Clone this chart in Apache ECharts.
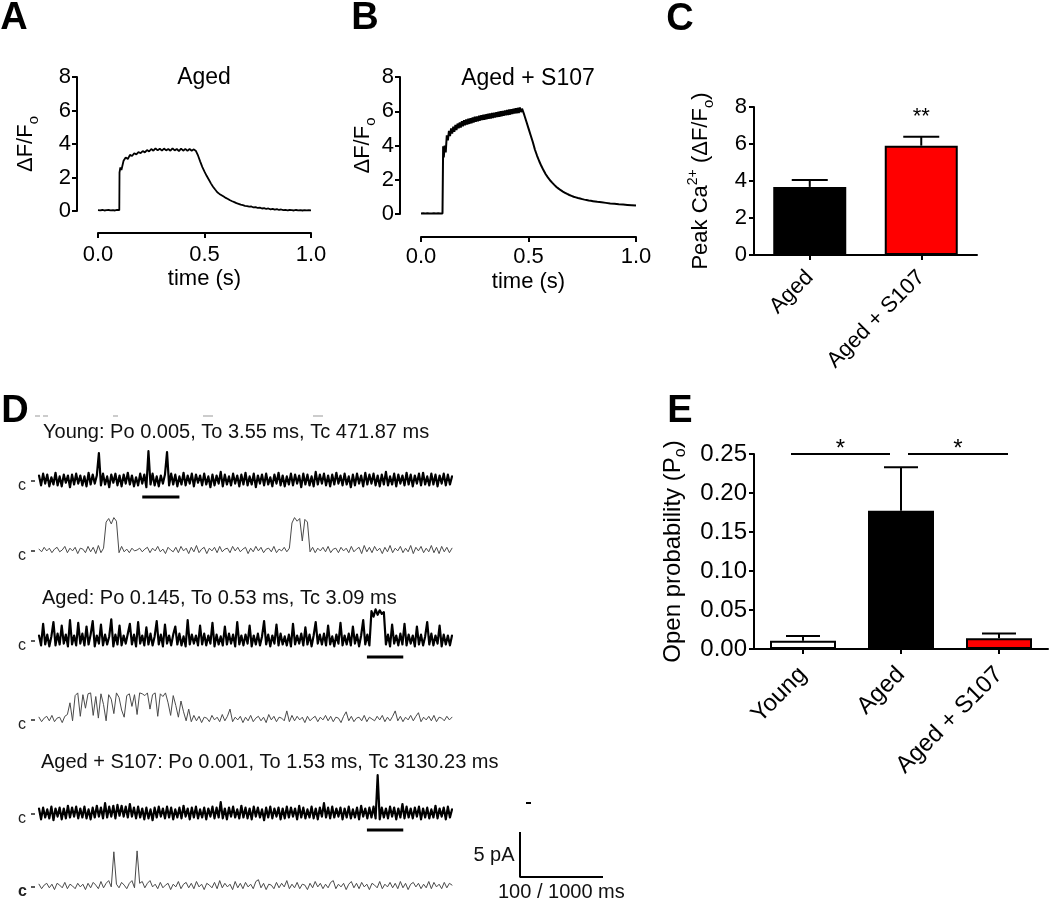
<!DOCTYPE html>
<html><head><meta charset="utf-8">
<script src="https://cdn.jsdelivr.net/npm/echarts@6/dist/echarts.min.js"></script>
<style>html,body{margin:0;padding:0;background:#fff}#c{width:1050px;height:901px}</style>
</head><body><div id="c"></div>
<script>
const FONT = "'Liberation Sans', Arial, Helvetica, sans-serif";

// ---------- Panel A : Aged transient ----------
const timeA = [0,0.01,0.02,0.03,0.04,0.05,0.06,0.07,0.08,0.09,0.1,0.101,0.105,
0.11,0.12,0.13,0.14,0.15,0.16,0.17,0.18,0.19,0.2,0.21,0.22,0.23,0.24,0.25,0.26,0.27,0.28,0.29,
0.3,0.31,0.32,0.33,0.34,0.35,0.36,0.37,0.38,0.39,0.4,0.41,0.42,0.43,0.44,0.45,0.46,0.47,0.48,0.49,
0.5,0.51,0.52,0.53,0.54,0.55,0.56,0.57,0.58,0.59,0.6,0.61,0.62,0.63,0.64,0.65,0.66,0.67,0.68,0.69,
0.7,0.71,0.72,0.73,0.74,0.75,0.76,0.77,0.78,0.79,0.8,0.81,0.82,0.83,0.84,0.85,0.86,0.87,0.88,0.89,
0.9,0.91,0.92,0.93,0.94,0.95,0.96,0.97,0.98,0.99,1.0];
const valsA = [0.05,0.04,0.06,0.03,0.05,0.06,0.04,0.05,0.03,0.06,0.05,2.3,2.6,
2.45,3.0,3.2,3.1,3.35,3.28,3.45,3.38,3.52,3.45,3.58,3.5,3.64,3.55,3.7,3.6,3.74,3.62,3.72,
3.6,3.73,3.62,3.7,3.6,3.74,3.62,3.7,3.58,3.72,3.6,3.71,3.59,3.7,3.6,3.68,3.58,3.3,2.95,2.62,
2.35,2.1,1.88,1.65,1.45,1.28,1.12,1.02,0.94,0.86,0.78,0.72,0.64,0.58,0.53,0.47,0.43,0.38,0.35,0.31,
0.29,0.26,0.27,0.21,0.23,0.18,0.2,0.15,0.17,0.12,0.15,0.1,0.13,0.08,0.11,0.06,0.09,0.05,0.07,0.04,
0.06,0.05,0.03,0.06,0.04,0.05,0.03,0.05,0.04,0.05,0.04];

// ---------- Panel B : Aged + S107 transient ----------
const timeB = [0,0.01,0.02,0.03,0.04,0.05,0.06,0.07,0.08,0.09,0.1,0.103,0.106,0.11,0.115,
0.12,0.125,0.13,0.135,0.14,0.145,0.15,0.155,0.16,0.165,0.17,0.175,0.18,0.185,0.19,0.195,
0.2,0.205,0.21,0.215,0.22,0.225,0.23,0.235,0.24,0.245,0.25,0.255,0.26,0.265,0.27,0.275,0.28,0.285,0.29,0.295,
0.3,0.305,0.31,0.315,0.32,0.325,0.33,0.335,0.34,0.345,0.35,0.355,0.36,0.365,0.37,0.375,0.38,0.385,0.39,0.395,
0.4,0.405,0.41,0.415,0.42,0.425,0.43,0.435,0.44,0.445,0.45,0.455,0.46,0.465,0.47,
0.48,0.49,0.5,0.51,0.52,0.53,0.54,0.55,0.56,0.57,0.58,0.59,0.6,0.61,0.62,0.63,0.64,0.65,0.66,0.67,0.68,0.69,
0.7,0.71,0.72,0.73,0.74,0.75,0.76,0.77,0.78,0.79,0.8,0.82,0.84,0.86,0.88,0.9,0.92,0.94,0.96,0.98,1.0];
const valsB = [0.03,0.04,0.03,0.04,0.03,0.03,0.04,0.03,0.04,0.03,0.03,3.95,3.3,4.0,3.6,
4.6,4.3,4.85,4.55,5.0,4.7,5.1,4.8,5.2,4.9,5.28,5.0,5.35,5.05,5.42,5.12,
5.48,5.18,5.52,5.22,5.56,5.26,5.6,5.3,5.64,5.34,5.68,5.38,5.7,5.42,5.74,5.45,5.77,5.48,5.8,5.5,
5.82,5.53,5.85,5.56,5.87,5.58,5.9,5.6,5.92,5.63,5.95,5.66,5.97,5.68,6.0,5.7,6.02,5.73,6.05,5.76,
6.07,5.78,6.1,5.8,6.12,5.83,6.15,5.86,6.18,5.88,6.2,5.9,6.22,5.95,6.15,
5.8,5.4,5.0,4.6,4.2,3.75,3.4,3.08,2.8,2.55,2.32,2.14,1.97,1.83,1.7,1.58,1.48,1.39,1.31,1.24,1.17,1.11,
1.06,1.01,0.97,0.93,0.9,0.87,0.84,0.82,0.79,0.77,0.75,0.71,0.68,0.65,0.62,0.6,0.57,0.55,0.53,0.51,0.49];

// ---------- Panel C : peak Ca ----------
const cCategories = ['Aged', 'Aged + S107'];
const cMeans = [3.68, 5.91];
const cSem = [0.37, 0.48];
const cSig = ['', '**'];

// ---------- Panel E : open probability ----------
const eCategories = ['Young', 'Aged', 'Aged + S107'];
const eMeans = [0.0106, 0.1773, 0.0137];
const eSem = [0.0061, 0.0557, 0.0063];
const eSigPairs = [[0, 1], [1, 2]];
const eSigLevel = 0.25;
const eSigLabel = ['*', '*'];

// ---------- Panel D : single-channel traces (pA) ----------
const denseSpanMs = 5000;   // compressed traces
const expandedSpanMs = 500; // expanded traces
const youngDense = [
0.5,-0.6,0.7,-0.4,0.6,-0.7,0.3,-0.5,0.8,-0.6,0.4,-0.7,0.6,-0.3,0.5,-0.8,0.6,-0.5,0.7,-0.4,
0.5,-0.6,0.4,-0.7,0.8,-0.5,0.6,-0.4,0.5,3.0,-0.6,0.7,-0.5,0.4,-0.8,0.6,-0.3,0.7,-0.6,0.5,
-0.7,0.6,-0.4,0.8,-0.5,0.5,-0.7,0.3,-0.6,0.7,-0.4,0.6,-0.8,3.2,-0.5,0.7,-0.6,0.4,-0.7,0.5,
-0.4,0.6,3.1,-0.6,0.7,-0.5,0.6,-0.7,0.4,-0.5,0.8,-0.6,0.5,-0.4,0.7,-0.7,0.6,-0.3,0.5,-0.6,
0.7,-0.5,0.4,-0.8,0.6,-0.6,0.5,-0.4,0.9,-0.7,0.6,-0.5,0.4,-0.6,0.7,-0.4,0.5,-0.7,0.6,-0.5,
0.8,-0.6,0.4,-0.5,0.7,-0.8,0.5,-0.4,0.6,-0.6,0.7,-0.5,0.3,-0.7,0.6,-0.4,0.8,-0.6,0.5,-0.7,
0.4,-0.5,0.7,-0.6,0.6,-0.4,0.5,-0.8,0.7,-0.5,0.6,-0.6,0.4,-0.7,0.9,-0.5,0.6,-0.4,0.7,-0.6,
0.5,-0.7,0.6,-0.5,0.8,-0.4,0.5,-0.6,0.7,-0.5,0.4,-0.8,0.6,-0.6,0.7,-0.4,0.5,-0.7,0.8,-0.5,
0.6,-0.4,0.7,-0.6,0.5,-0.7,0.6,-0.5,0.9,-0.6,0.4,-0.5,0.7,-0.7,0.6,-0.4,0.5,-0.6,0.8,-0.5,
0.6,-0.7,0.5,-0.4,0.7,-0.6,0.8,-0.5,0.4,-0.6,0.7,-0.5,0.6,-0.7,0.5,-0.4,0.7,-0.6,0.6,-0.5,
0.4];
const youngExpanded = [
0.1,-0.2,0.3,-0.1,0.2,-0.3,0.1,0.3,-0.2,0.0,0.4,-0.3,0.2,-0.1,0.3,-0.4,0.2,0.1,-0.3,0.4,
-0.2,0.3,-0.4,0.5,-0.3,0.2,3.1,3.5,2.9,3.6,3.2,-0.3,0.4,-0.2,0.1,-0.3,0.2,-0.1,0.0,0.2,
-0.2,0.1,0.3,-0.3,0.2,-0.1,0.4,-0.2,0.1,-0.4,0.3,0.0,-0.2,0.3,-0.3,0.4,-0.1,0.2,-0.4,0.3,
-0.2,0.5,-0.3,0.1,0.3,-0.4,0.2,-0.1,0.3,-0.3,0.4,-0.2,0.1,0.2,-0.3,0.4,-0.1,0.3,-0.2,0.1,
0.3,-0.4,0.2,-0.2,0.4,-0.1,0.3,-0.3,0.1,0.2,-0.2,0.4,-0.3,0.1,-0.1,0.3,-0.2,0.2,3.0,3.6,
3.2,3.5,1.0,3.4,3.1,-0.2,0.3,-0.3,0.2,-0.1,0.3,-0.2,0.4,-0.3,0.1,0.2,-0.3,0.3,-0.1,0.2,
-0.3,0.4,-0.2,0.1,0.3,-0.4,0.5,-0.2,0.3,-0.3,0.4,-0.1,0.2,-0.4,0.3,-0.2,0.5,-0.3,0.2,-0.1,
0.4,-0.3,0.2,-0.2,0.5,-0.4,0.3,-0.1,0.4,-0.3,0.2,-0.2,0.5,-0.3,0.3,-0.4,0.4,-0.2,0.3,-0.3,
0.2];
const agedDense = [
0.5,-0.6,1.8,-0.5,0.6,-0.7,0.4,2.0,-0.6,0.7,-0.5,1.6,-0.4,0.6,-0.7,2.2,-0.5,0.5,-0.6,1.9,
-0.4,0.7,-0.6,1.5,-0.5,0.6,2.1,-0.7,0.5,-0.4,1.7,-0.6,0.6,-0.5,0.4,2.3,-0.7,0.6,-0.5,1.6,
-0.6,0.5,-0.4,0.7,1.8,-0.5,0.6,-0.7,2.0,-0.4,0.5,-0.6,1.4,-0.5,0.7,-0.6,0.4,2.1,-0.5,0.6,
-0.7,1.7,-0.4,0.5,-0.6,0.6,1.5,-0.5,0.7,-0.6,0.4,-0.7,2.2,-0.5,0.6,-0.4,0.5,-0.6,1.6,-0.5,
0.7,-0.6,0.5,-0.4,1.9,-0.7,0.6,-0.5,0.4,-0.6,1.5,-0.5,0.7,-0.4,0.6,-0.7,2.0,-0.5,0.5,-0.6,
0.6,-0.4,1.6,-0.7,0.5,-0.5,0.7,-0.6,0.4,2.1,-0.5,0.6,-0.7,0.5,-0.4,1.7,-0.6,0.7,-0.5,0.4,
-0.6,0.6,-0.7,1.8,-0.5,0.5,-0.4,0.7,-0.6,1.4,-0.5,0.6,-0.7,0.5,2.0,-0.4,0.6,-0.5,0.7,-0.6,
1.6,-0.5,0.4,-0.7,0.6,-0.4,1.9,-0.6,0.5,-0.5,0.7,-0.6,1.5,-0.4,0.6,-0.7,0.5,2.2,-0.5,0.6,
-0.6,3.2,2.6,3.4,2.8,3.3,2.9,3.1,-0.5,0.6,-0.7,1.7,-0.4,0.5,-0.6,0.7,-0.5,1.8,-0.6,0.6,
-0.4,0.5,-0.7,1.5,-0.5,0.6,-0.6,0.4,2.0,-0.5,0.7,-0.6,0.5,-0.4,1.6,-0.7,0.6,-0.5,0.5,-0.6,
0.5];
const agedExpanded = [
0.2,-0.3,0.1,0.3,-0.2,0.4,-0.3,0.1,0.2,-0.4,0.3,0.5,1.8,-0.2,2.6,2.9,0.3,2.7,1.2,2.8,
2.9,0.4,2.5,0.1,2.8,1.6,-0.2,2.7,2.2,0.6,2.9,2.4,1.0,0.2,2.6,2.8,1.4,2.7,0.5,2.9,
2.8,2.6,2.9,1.1,2.7,2.9,0.3,2.8,2.5,2.9,1.8,0.4,2.6,1.5,0.2,2.0,0.8,-0.2,1.1,-0.3,
0.4,-0.2,0.3,-0.4,0.2,0.1,-0.3,0.4,-0.1,0.2,-0.3,0.5,-0.2,0.3,1.1,-0.3,0.2,-0.1,0.3,-0.4,
0.2,-0.2,0.4,-0.3,0.1,0.3,-0.2,0.2,-0.4,0.5,-0.1,0.3,-0.3,0.2,0.1,-0.2,0.9,-0.3,0.4,-0.2,
0.3,-0.1,0.2,-0.4,0.3,-0.2,0.1,0.3,-0.3,0.2,-0.1,0.4,-0.2,0.3,-0.3,0.2,0.1,-0.4,0.3,0.8,
-0.2,0.3,-0.3,0.1,0.2,-0.2,0.4,-0.3,0.2,0.0,-0.2,0.3,-0.1,0.4,-0.3,0.2,-0.2,0.3,0.9,-0.2,
0.3,-0.3,0.2,-0.1,0.4,-0.2,0.3,0.7,-0.3,0.2,-0.1,0.3,-0.2,0.4,-0.3,0.2,0.1,-0.2,0.3,-0.1,
0.2];
const s107Dense = [
0.5,-0.7,0.6,-0.5,0.4,-0.6,0.7,-0.8,0.5,-0.4,0.6,-0.7,0.5,-0.6,0.8,-0.5,0.6,-0.4,0.7,-0.6,
0.5,-0.5,0.7,-0.6,0.4,-0.7,0.6,-0.5,0.8,-0.4,0.6,-0.6,1.1,-0.5,0.7,-0.4,0.8,-0.6,0.9,-0.3,
0.8,-0.4,0.7,-0.5,1.0,-0.4,0.6,-0.6,0.7,-0.5,0.5,-0.7,0.6,-0.6,0.4,-0.8,0.6,-0.5,0.7,-0.4,
0.5,-0.6,0.7,-0.5,0.6,-0.7,0.4,-0.5,0.6,-0.6,0.8,-0.4,0.5,-0.7,0.6,-0.5,0.7,-0.6,0.4,-0.5,
0.6,-0.7,0.5,-0.4,0.7,-0.6,0.6,-0.5,1.2,-0.6,0.5,-0.7,0.6,-0.4,0.7,-0.5,0.4,-0.6,0.8,-0.5,
0.6,-0.6,0.5,-0.7,0.7,-0.4,0.6,-0.5,0.4,-0.8,0.6,-0.5,0.7,-0.6,0.5,-0.4,0.6,-0.7,0.5,-0.6,
0.7,-0.5,0.6,-0.4,0.5,-0.7,0.8,-0.5,0.6,-0.6,0.4,-0.5,0.7,-0.6,0.5,-0.7,0.6,-0.4,1.1,-0.5,
0.6,-0.6,0.7,-0.5,0.5,-0.4,0.6,-0.7,0.5,-0.5,0.7,-0.6,0.4,-0.5,0.6,-0.7,0.8,-0.4,0.5,-0.6,
0.6,-0.5,0.7,-0.6,4.2,-0.7,0.6,-0.5,0.5,-0.6,0.7,-0.4,0.6,-0.7,0.5,-0.5,1.0,-0.6,0.7,-0.5,
0.5,-0.6,0.6,-0.4,0.7,-0.7,0.5,-0.5,0.6,-0.6,0.4,-0.5,0.8,-0.6,0.5,-0.4,0.6,-0.7,0.7,-0.5,
0.4];
const s107Expanded = [
0.2,-0.3,0.1,0.3,-0.2,0.2,-0.4,0.3,0.1,-0.2,0.4,-0.3,0.2,0.0,-0.3,0.3,-0.1,0.2,-0.4,0.3,
-0.2,0.4,0.1,-0.3,0.5,-0.2,0.3,0.6,-0.1,3.8,0.2,-0.2,0.4,0.1,-0.3,0.3,0.6,-0.2,3.9,0.3,
0.5,-0.2,0.3,0.6,-0.1,0.2,-0.3,0.4,-0.2,0.1,0.3,-0.4,0.2,-0.1,0.5,-0.3,0.2,0.4,-0.2,0.3,
-0.3,0.5,-0.1,0.2,-0.4,0.3,0.1,-0.2,0.4,-0.3,0.6,-0.2,0.3,-0.1,0.2,-0.4,0.5,-0.2,0.3,-0.3,
0.4,-0.1,0.2,-0.3,0.5,0.7,-0.2,0.3,-0.4,0.2,0.1,-0.3,0.4,-0.2,0.3,-0.1,0.6,-0.3,0.2,-0.2,
0.4,-0.3,0.2,0.1,-0.4,0.3,-0.2,0.5,-0.1,0.3,-0.3,0.2,-0.2,0.4,0.6,-0.3,0.2,-0.1,0.3,-0.4,
0.2,0.5,-0.2,0.3,-0.3,0.4,-0.1,0.2,-0.4,0.3,0.1,-0.2,0.5,-0.3,0.2,-0.1,0.4,-0.2,0.3,-0.3,
0.5,-0.2,0.3,-0.4,0.2,0.4,-0.1,0.3,-0.3,0.2,-0.2,0.5,-0.3,0.4,-0.1,0.2,-0.3,0.4,-0.2,0.3,
0.1];
// windows (ms) on compressed traces shown expanded below
const youngWindow = [1250, 1700];
const agedWindow = [3970, 4410];
const s107Window = [3970, 4410];
const traceTitles = ['Young: Po 0.005, To 3.55 ms, Tc 471.87 ms',
                     'Aged: Po 0.145, To 0.53 ms, Tc 3.09 ms',
                     'Aged + S107: Po 0.001, To 1.53 ms, Tc 3130.23 ms'];
const scaleBarPA = 5, scaleBarMs = 100;

// ================= build =================
const zip = (t, v) => t.map((x, i) => [x, v[i]]);
const sampled = (vals, span) => vals.map((v, i) => [i * span / (vals.length - 1), v]);

const chart = echarts.init(document.getElementById('c'), null, {renderer: 'canvas'});
const K = '#000';
const txt = (size, extra) => Object.assign({color: K, fontFamily: FONT, fontSize: size}, extra || {});
const axLine = {show: true, onZero: false, lineStyle: {color: K, width: 2}};
const axTick = {show: true, length: 5, inside: false, lineStyle: {color: K, width: 2}};

const grids = [
  {left: 98, top: 77, width: 213, height: 134},    // 0 A
  {left: 421, top: 77, width: 215, height: 137},   // 1 B
  {left: 754, top: 107, width: 223, height: 148},  // 2 C
  {left: 754, top: 454, width: 294, height: 195}   // 3 E
];
const traceBase = [480, 550, 640, 719, 813, 886];
traceBase.forEach(b => grids.push({left: 39, top: b - 40.5, width: 413, height: 63}));
grids.push({left: 520, top: 832, width: 83, height: 45}); // 10 scale bar
grids.forEach(g => { g.containLabel = false; g.outerBoundsMode = 'none'; g.show = false; });

const richA = {
  m: {fontSize: 22, fontFamily: FONT, color: K, lineHeight: 30},
  s: {fontSize: 15, fontFamily: FONT, color: K, lineHeight: 15, verticalAlign: 'bottom'},
  p: {fontSize: 14, fontFamily: FONT, color: K, lineHeight: 14, verticalAlign: 'top'}
};
const richE = {
  m: {fontSize: 24, fontFamily: FONT, color: K, lineHeight: 32},
  s: {fontSize: 16, fontFamily: FONT, color: K, lineHeight: 16, verticalAlign: 'bottom'}
};

const xAxes = [
  {gridIndex: 0, type: 'value', min: 0, max: 1, interval: 0.5, offset: 22,
   axisLine: axLine, axisTick: axTick, splitLine: {show: false},
   axisLabel: txt(22, {margin: 11, formatter: v => v.toFixed(1)}),
   name: 'time (s)', nameLocation: 'middle', nameGap: 35, nameTextStyle: txt(22)},
  {gridIndex: 1, type: 'value', min: 0, max: 1, interval: 0.5, offset: 23,
   axisLine: axLine, axisTick: axTick, splitLine: {show: false},
   axisLabel: txt(22, {margin: 9, formatter: v => v.toFixed(1)}),
   name: 'time (s)', nameLocation: 'middle', nameGap: 34, nameTextStyle: txt(22)},
  {gridIndex: 2, type: 'category', data: cCategories,
   axisLine: axLine, axisTick: Object.assign({alignWithLabel: true}, axTick), splitLine: {show: false},
   axisLabel: txt(22, {rotate: 45, margin: 19, interval: 0})},
  {gridIndex: 3, type: 'category', data: eCategories,
   axisLine: axLine, axisTick: Object.assign({alignWithLabel: true}, axTick), splitLine: {show: false},
   axisLabel: txt(24, {rotate: 45, margin: 22, interval: 0})}
];
const yAxes = [
  {gridIndex: 0, type: 'value', min: 0, max: 8, interval: 2, offset: 21,
   axisLine: axLine, axisTick: axTick, splitLine: {show: false},
   axisLabel: txt(22, {margin: 6}),
   name: '{m|ΔF/F}{s|o}', nameLocation: 'middle', nameGap: 36,
   nameTextStyle: txt(22, {rich: richA})},
  {gridIndex: 1, type: 'value', min: 0, max: 8, interval: 2, offset: 21,
   axisLine: axLine, axisTick: axTick, splitLine: {show: false},
   axisLabel: txt(22, {margin: 6}),
   name: '{m|ΔF/F}{s|o}', nameLocation: 'middle', nameGap: 22,
   nameTextStyle: txt(22, {rich: richA})},
  {gridIndex: 2, type: 'value', min: 0, max: 8, interval: 2,
   axisLine: axLine, axisTick: axTick, splitLine: {show: false},
   axisLabel: txt(22, {margin: 7}),
   name: '{m|Peak Ca}{p|2+}{m| (ΔF/F}{s|o}{m|)}', nameLocation: 'middle', nameGap: 38,
   nameTextStyle: txt(22, {rich: richA})},
  {gridIndex: 3, type: 'value', min: 0, max: 0.25, interval: 0.05,
   axisLine: axLine, axisTick: axTick, splitLine: {show: false},
   axisLabel: txt(24, {margin: 7, formatter: v => v.toFixed(2)}),
   name: '{m|Open probability (P}{s|o}{m|)}', nameLocation: 'middle', nameGap: 65,
   nameTextStyle: txt(24, {rich: richE})}
];
const traceSpans = [denseSpanMs, expandedSpanMs, denseSpanMs, expandedSpanMs, denseSpanMs, expandedSpanMs];
traceSpans.forEach((s, i) => {
  xAxes.push({gridIndex: 4 + i, type: 'value', min: 0, max: s, show: false});
  yAxes.push({gridIndex: 4 + i, type: 'value', min: -2.5, max: 4.5, show: false});
});
xAxes.push({gridIndex: 10, type: 'value', min: 0, max: scaleBarMs, show: false});
yAxes.push({gridIndex: 10, type: 'value', min: 0, max: scaleBarPA, show: false});

function errRender(capHalf, sigTexts, sigFont, sigLift) {
  return function (params, api) {
    const x = api.value(0), m = api.value(1), s = api.value(2);
    const p0 = api.coord([x, m]), p1 = api.coord([x, m + s]);
    const ch = [
      {type: 'line', shape: {x1: p0[0], y1: p0[1], x2: p1[0], y2: p1[1]}, style: {stroke: K, lineWidth: 2}},
      {type: 'line', shape: {x1: p1[0] - capHalf, y1: p1[1], x2: p1[0] + capHalf, y2: p1[1]}, style: {stroke: K, lineWidth: 2}}
    ];
    if (sigTexts && sigTexts[params.dataIndex]) {
      ch.push({type: 'text', x: p1[0], y: p1[1] - sigLift,
        style: {text: sigTexts[params.dataIndex], font: sigFont, fill: K, align: 'center', verticalAlign: 'middle', textAlign: 'center', textVerticalAlign: 'middle'}});
    }
    return {type: 'group', children: ch};
  };
}

const cColors = ['#000000', '#ff0000'];
const eColors = ['#ffffff', '#000000', '#ff0000'];

const series = [
  {type: 'line', xAxisIndex: 0, yAxisIndex: 0, data: zip(timeA, valsA), showSymbol: false, symbol: 'none',
   lineStyle: {color: K, width: 1.8}, animation: false, z: 3},
  {type: 'line', xAxisIndex: 1, yAxisIndex: 1, data: zip(timeB, valsB), showSymbol: false, symbol: 'none',
   lineStyle: {color: K, width: 2}, animation: false, z: 3},
  {type: 'bar', xAxisIndex: 2, yAxisIndex: 2, barWidth: 73, animation: false,
   data: cMeans.map((v, i) => ({value: v, itemStyle: {color: cColors[i], borderColor: K, borderWidth: 2}}))},
  {type: 'custom', xAxisIndex: 2, yAxisIndex: 2, animation: false, z: 5,
   data: cMeans.map((m, i) => [i, m, cSem[i]]),
   renderItem: errRender(18, cSig, '22px ' + FONT, 20)},
  {type: 'bar', xAxisIndex: 3, yAxisIndex: 3, barWidth: 66, animation: false,
   data: eMeans.map((v, i) => ({value: v, itemStyle: {color: eColors[i], borderColor: K, borderWidth: 2}}))},
  {type: 'custom', xAxisIndex: 3, yAxisIndex: 3, animation: false, z: 5,
   data: eMeans.map((m, i) => [i, m, eSem[i]]),
   renderItem: errRender(17)},
  {type: 'custom', xAxisIndex: 3, yAxisIndex: 3, animation: false, z: 5, clip: false,
   data: eSigPairs.map(p => [p[0], p[1], eSigLevel]),
   renderItem: function (params, api) {
     const a = api.value(0), b = api.value(1), lvl = api.value(2);
     const pa = api.coord([a, lvl]), pb = api.coord([b, lvl]);
     const sh = params.dataIndex === 0 ? [-12, -11] : [7, 9];
     const x1 = pa[0] + sh[0], x2 = pb[0] + sh[1];
     return {type: 'group', children: [
       {type: 'line', shape: {x1: x1, y1: pa[1], x2: x2, y2: pa[1]}, style: {stroke: K, lineWidth: 2}},
       {type: 'text', x: (x1 + x2) / 2, y: pa[1] - 5,
        style: {text: eSigLabel[params.dataIndex], font: '24px ' + FONT, fill: K, align: 'center', verticalAlign: 'middle', textAlign: 'center', textVerticalAlign: 'middle'}}
     ]};
   }}
];

const traces = [youngDense, youngExpanded, agedDense, agedExpanded, s107Dense, s107Expanded];
traces.forEach((vals, i) => {
  const dense = i % 2 === 0;
  series.push({type: 'line', xAxisIndex: 4 + i, yAxisIndex: 4 + i, data: sampled(vals, traceSpans[i]),
    showSymbol: false, symbol: 'none', animation: false,
    lineStyle: {color: dense ? '#000' : '#4a4a4a', width: dense ? 2.2 : 1, join: 'round', cap: 'round'}});
});
[[youngWindow, 4], [agedWindow, 6], [s107Window, 8]].forEach(([w, g]) => {
  series.push({type: 'line', xAxisIndex: g, yAxisIndex: g, data: [[w[0], -1.9], [w[1], -1.9]],
    showSymbol: false, symbol: 'none', animation: false, clip: false, lineStyle: {color: K, width: 3}});
});
series.push({type: 'line', xAxisIndex: 10, yAxisIndex: 10,
  data: [[0, scaleBarPA], [0, 0], [scaleBarMs, 0]], showSymbol: false, symbol: 'none', animation: false, clip: false,
  lineStyle: {color: K, width: 2}});

function T(text, x, y, font, align, color) {
  return {type: 'text', x: x, y: y, silent: true,
    style: {text: text, font: font, fill: color || K, align: align || 'left', verticalAlign: 'middle',
            textAlign: align || 'left', textVerticalAlign: 'middle'}};
}
function L(x1, y1, x2, y2, color, w) {
  return {type: 'line', silent: true, shape: {x1: x1, y1: y1, x2: x2, y2: y2}, style: {stroke: color, lineWidth: w}};
}
const BOLD = 'bold 38px ' + FONT;
const graphic = [
  T('A', 14, 19, BOLD, 'center'), T('B', 365, 19, BOLD, 'center'), T('C', 680, 20, BOLD, 'center'),
  T('D', 15, 412, BOLD, 'center'), T('E', 680, 412, BOLD, 'center'),
  T('Aged', 204, 78, '23px ' + FONT, 'center'),
  T('Aged + S107', 528, 79, '23px ' + FONT, 'center'),
  T(traceTitles[0], 43, 432, '20px ' + FONT, 'left', '#111'),
  T(traceTitles[1], 42, 598, '20px ' + FONT, 'left', '#111'),
  T(traceTitles[2], 41, 762, '20px ' + FONT, 'left', '#111'),
  T('5 pA', 494, 855, '20px ' + FONT, 'center', '#111'),
  T('100 / 1000 ms', 498, 892, '20px ' + FONT, 'left', '#111'),
  L(35, 416, 40, 416, '#999', 1), L(43, 416, 48, 416, '#999', 1), L(113, 416, 118, 416, '#999', 1),
  L(203, 416, 213, 416, '#999', 1), L(313, 416, 323, 416, '#999', 1),
  L(526, 803, 531, 803, '#000', 2)
];
traceBase.forEach((b, i) => {
  graphic.push(T('c', 18, b + 6, (i === 5 ? 'bold ' : '') + '16px ' + FONT, 'left', '#222'));
  graphic.push(L(31, b + 1, 35, b + 1, '#222', 1.5));
});

chart.setOption({
  backgroundColor: '#ffffff',
  animation: false,
  grid: grids,
  xAxis: xAxes,
  yAxis: yAxes,
  series: series,
  graphic: graphic
});
</script>
</body></html>
